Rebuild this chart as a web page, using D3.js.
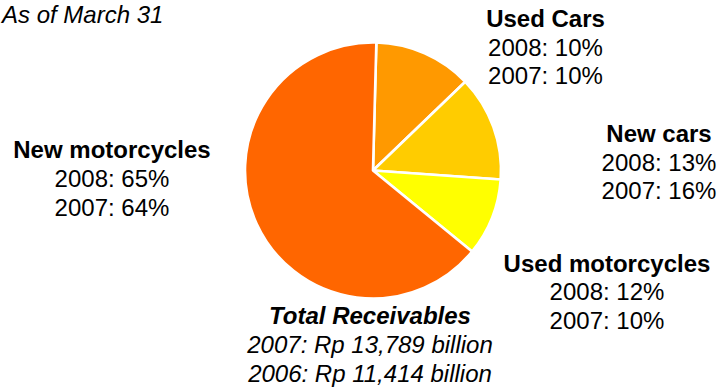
<!DOCTYPE html>
<html>
<head>
<meta charset="utf-8">
<script src="https://cdn.jsdelivr.net/npm/d3@7"></script>
<style>
  html, body { margin: 0; padding: 0; background: #fff; }
  svg { display: block; }
  text { font-family: "Liberation Sans", Arial, Helvetica, sans-serif; fill: #000; }
</style>
</head>
<body>
<svg id="chart" width="721" height="389"></svg>
<script>
// Segments of receivables, clockwise from the top
const segments = ["Used Cars", "New cars", "Used motorcycles", "New motorcycles"];
// Share of each segment in the pie (%)
const shares = [12.4, 13.3, 9.8, 64.5];
const colors = ["#FF9900", "#FFCC00", "#FFFF00", "#FF6600"];
// Label text for each segment
const share2008 = ["10%", "13%", "12%", "65%"];
const share2007 = ["10%", "16%", "10%", "64%"];
const totalTitle = "Total Receivables";
const totalLines = ["2007: Rp 13,789 billion", "2006: Rp 11,414 billion"];
const headline = "As of March 31";

const W = 721, H = 389;
const cx = 373, cy = 170.5, R = 128;
const FS = 24, LH = 28.8;

const svg = d3.select("#chart");

// Pie
const start = 1.5 * Math.PI / 180;
const pie = d3.pie().sort(null).value(d => d).startAngle(start).endAngle(start + 2 * Math.PI);
const arc = d3.arc().innerRadius(0).outerRadius(R);

svg.append("g")
  .attr("transform", `translate(${cx},${cy})`)
  .selectAll("path")
  .data(pie(shares))
  .join("path")
  .attr("d", arc)
  .attr("fill", (d, i) => colors[i])
  .attr("stroke", "#fff")
  .attr("stroke-width", 2.6)
  .attr("stroke-linejoin", "round");

// Segment labels: bold name, then one line per year
const labelPos = [
  { x: 545.5, y: 26.7 },   // Used Cars
  { x: 659,   y: 141.7 },  // New cars
  { x: 607,   y: 271.5 },  // Used motorcycles
  { x: 112,   y: 158.3 }   // New motorcycles
];

segments.forEach((name, i) => {
  const g = svg.append("g").attr("text-anchor", "middle").style("font-size", FS + "px");
  g.append("text").attr("x", labelPos[i].x).attr("y", labelPos[i].y)
    .style("font-weight", "bold").text(name);
  g.append("text").attr("x", labelPos[i].x).attr("y", labelPos[i].y + LH)
    .text("2008: " + share2008[i]);
  g.append("text").attr("x", labelPos[i].x).attr("y", labelPos[i].y + 2 * LH)
    .text("2007: " + share2007[i]);
});

// Totals below the pie
const tg = svg.append("g").attr("text-anchor", "middle")
  .style("font-size", FS + "px").style("font-style", "italic");
tg.append("text").attr("x", 370).attr("y", 324.3).style("font-weight", "bold").text(totalTitle);
totalLines.forEach((t, i) => {
  tg.append("text").attr("x", 370).attr("y", 353.2 + i * LH).text(t);
});

// Headline in the top-left corner
svg.append("text")
  .attr("x", 2).attr("y", 22.5)
  .attr("text-anchor", "start")
  .style("font-size", "24px").style("font-style", "italic")
  .text(headline);
</script>
</body>
</html>
